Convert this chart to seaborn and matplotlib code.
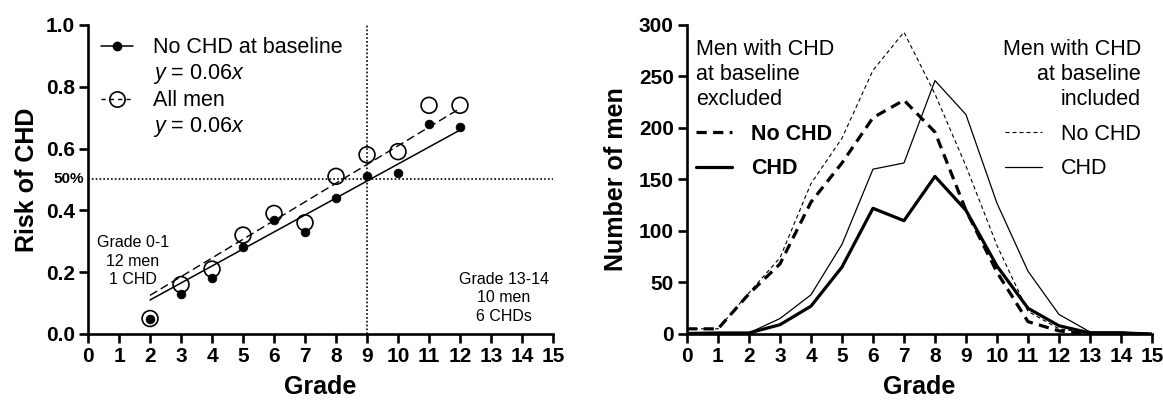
import numpy as np
import pandas as pd
import seaborn as sns
import matplotlib.pyplot as plt
from matplotlib.lines import Line2D

# Left panel: risk of CHD by grade
grades = [2, 3, 4, 5, 6, 7, 8, 9, 10, 11, 12]
riskNoChd = [0.05, 0.13, 0.18, 0.28, 0.37, 0.33, 0.44, 0.51, 0.52, 0.68, 0.67]
riskAllMen = [0.05, 0.16, 0.21, 0.32, 0.39, 0.36, 0.51, 0.58, 0.59, 0.74, 0.74]
fitGrades = [2, 12]
fitNoChd = [0.11, 0.66]
fitAllMen = [0.125, 0.73]

# Right panel: number of men by grade
allGrades = list(range(16))
excludedNoChd = [5, 5, 39, 68, 128, 166, 210, 227, 196, 120, 60, 12, 3, 0, 0, 0]
excludedChd = [0.5, 1, 1, 9, 27, 65, 122, 110, 153, 120, 66, 25, 8, 1, 1, 0]
includedNoChd = [5, 5, 40, 74, 146, 190, 256, 293, 233, 163, 86, 22, 5, 1, 0, 0]
includedChd = [0.5, 1, 1, 15, 38, 87, 160, 166, 246, 213, 127, 61, 19, 2, 2, 0]

sns.set_style("ticks")
plt.rcParams["font.family"] = ["Liberation Sans", "DejaVu Sans"]
plt.rcParams["mathtext.fontset"] = "custom"
plt.rcParams["mathtext.it"] = "Liberation Sans:italic"
plt.rcParams["mathtext.rm"] = "Liberation Sans"
for key in ("text.color", "axes.labelcolor", "xtick.color", "ytick.color", "axes.edgecolor"):
    plt.rcParams[key] = "black"

fig = plt.figure(figsize=(11.63, 4.04), dpi=100)
axLeft = fig.add_axes([0.0757, 0.1733, 0.3998, 0.7649])
axRight = fig.add_axes([0.5907, 0.1733, 0.3998, 0.7649])

dotted = (0, (1, 1.3))

# ---- left panel ----
axLeft.axhline(0.5, color="black", linestyle=dotted, linewidth=1.2, zorder=1)
axLeft.axvline(9, color="black", linestyle=dotted, linewidth=1.2, zorder=1)
sns.lineplot(x=fitGrades, y=fitNoChd, ax=axLeft, color="black", linewidth=1.1)
sns.lineplot(x=fitGrades, y=fitAllMen, ax=axLeft, color="black", linewidth=1.0,
             linestyle=(0, (6, 3)))
sns.scatterplot(x=grades, y=riskAllMen, ax=axLeft, s=130, facecolor="none",
                edgecolor="black", linewidth=1.2, zorder=3)
sns.scatterplot(x=grades, y=riskNoChd, ax=axLeft, s=40, color="black",
                edgecolor="black", zorder=4)

axLeft.set_xlim(0, 15)
axLeft.set_ylim(0, 1.0)
axLeft.set_xticks(range(16))
axLeft.set_yticks(np.arange(0, 1.01, 0.2))
axLeft.set_yticklabels([f"{v:.1f}" for v in np.arange(0, 1.01, 0.2)])
axLeft.set_xlabel("Grade", fontsize=18, fontweight="bold", labelpad=6)
axLeft.set_ylabel("Risk of CHD", fontsize=18, fontweight="bold", labelpad=5)
axLeft.text(-0.12, 0.5, "50%", fontsize=11, fontweight="bold", ha="right",
            va="center", clip_on=False)
axLeft.text(1.45, 0.235, "Grade 0-1\n12 men\n1 CHD", fontsize=11.5, ha="center",
            va="center", linespacing=1.3)
axLeft.text(13.42, 0.117, "Grade 13-14\n10 men\n6 CHDs", fontsize=11.5, ha="center",
            va="center", linespacing=1.3)

blank = Line2D([], [], linestyle="none")
leftHandles = [
    Line2D([], [], color="black", linewidth=1.1, marker="o", markersize=6),
    blank,
    Line2D([], [], color="black", linewidth=1.0, linestyle=(0, (3, 3)), marker="o",
           markersize=11, markerfacecolor="none", markeredgewidth=1.2),
    blank,
]
leftLabels = ["No CHD at baseline", "$y$ = 0.06$x$", "All men", "$y$ = 0.06$x$"]
axLeft.legend(leftHandles, leftLabels, loc="upper left", bbox_to_anchor=(0.027, 0.96),
              frameon=False, fontsize=15.5, borderpad=0, borderaxespad=0,
              handlelength=1.5, handletextpad=0.95, labelspacing=0.18)

# ---- right panel ----
sns.lineplot(x=allGrades, y=includedNoChd, ax=axRight, color="black", linewidth=0.8,
             linestyle=(0, (3.6, 2.7)))
sns.lineplot(x=allGrades, y=includedChd, ax=axRight, color="black", linewidth=0.9)
sns.lineplot(x=allGrades, y=excludedNoChd, ax=axRight, color="black", linewidth=2.3,
             linestyle=(0, (3.2, 2)))
sns.lineplot(x=allGrades, y=excludedChd, ax=axRight, color="black", linewidth=2.3)

axRight.set_xlim(0, 15)
axRight.set_ylim(0, 300)
axRight.set_xticks(range(16))
axRight.set_yticks(range(0, 301, 50))
axRight.set_xlabel("Grade", fontsize=18, fontweight="bold", labelpad=6)
axRight.set_ylabel("Number of men", fontsize=18, fontweight="bold", labelpad=8)

excludedHandles = [
    Line2D([], [], color="black", linewidth=2.3, linestyle=(0, (3.2, 2))),
    Line2D([], [], color="black", linewidth=2.3),
]
legExcluded = axRight.legend(excludedHandles, ["No CHD", "CHD"], loc="upper left",
                             bbox_to_anchor=(0.019, 0.955), frameon=False,
                             title="Men with CHD\nat baseline\nexcluded",
                             title_fontsize=15.5, alignment="left",
                             prop={"size": 15.5, "weight": "bold"}, borderpad=0,
                             borderaxespad=0, handlelength=1.7, handletextpad=0.85,
                             labelspacing=0.62)
legExcluded.get_title().set_linespacing(1.25)
legExcluded._legend_box.sep = 10
axRight.add_artist(legExcluded)
includedHandles = [
    Line2D([], [], color="black", linewidth=0.8, linestyle=(0, (3.6, 2.7))),
    Line2D([], [], color="black", linewidth=0.9),
]
legIncluded = axRight.legend(includedHandles, ["No CHD", "CHD"], loc="upper right",
                             bbox_to_anchor=(0.976, 0.955), frameon=False,
                             title="Men with CHD\nat baseline\nincluded",
                             title_fontsize=15.5, alignment="right",
                             prop={"size": 15.5}, borderpad=0, borderaxespad=0,
                             handlelength=1.7, handletextpad=0.9, labelspacing=0.62)
legIncluded.get_title().set_linespacing(1.25)
legIncluded.get_title().set_multialignment("right")
legIncluded._legend_box.sep = 10

for ax in (axLeft, axRight):
    sns.despine(ax=ax)
    for side in ("left", "bottom"):
        ax.spines[side].set_linewidth(1.9)
    ax.tick_params(axis="both", direction="out", length=6.5, width=1.9, pad=3,
                   labelsize=15)
    for label in ax.get_xticklabels() + ax.get_yticklabels():
        label.set_fontweight("bold")

plt.savefig("out.png", dpi=100)
plt.close()
